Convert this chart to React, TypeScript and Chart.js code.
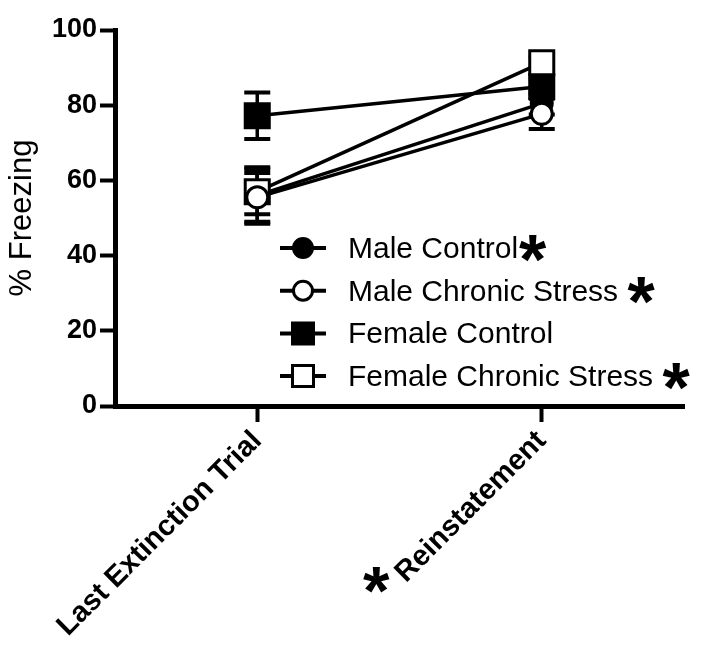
import React, { useEffect, useRef } from "react";
import { Chart, registerables } from "chart.js";
Chart.register(...registerables);

// ---- data ----
const categories = ["Last Extinction Trial", "Reinstatement"];
const categoryStars = [false, true];
const seriesNames = ["Male Control", "Male Chronic Stress ", "Female Control", "Female Chronic Stress "];
const seriesStars = [true, true, false, true];
const maleControl = [56, 80.5];
const maleControlSem = [7.5, 3];
const maleStress = [55.5, 77.7];
const maleStressSem = [6.5, 4];
const femaleControl = [77.2, 85];
const femaleControlSem = [6.2, 2];
const femaleStress = [57, 91.3];
const femaleStressSem = [6, 1.5];
const yMin = 0;
const yMax = 100;
const yStep = 20;
const yTitle = "% Freezing";

const FONT = "'Liberation Sans', Arial, Helvetica, sans-serif";
const semList = [maleControlSem, maleStressSem, femaleControlSem, femaleStressSem];
const shapes = [
  { style: "circle", fill: "#000" },
  { style: "circle", fill: "#fff" },
  { style: "rect", fill: "#000" },
  { style: "rect", fill: "#fff" },
];

function drawAsterisk(ctx: CanvasRenderingContext2D, cx: number, cy: number, size: number) {
  ctx.save();
  ctx.font = `bold ${size}px ${FONT}`;
  ctx.textBaseline = "alphabetic";
  ctx.textAlign = "left";
  const m = ctx.measureText("*");
  const asc = m.actualBoundingBoxAscent;
  const desc = m.actualBoundingBoxDescent;
  const l = m.actualBoundingBoxLeft;
  const r = m.actualBoundingBoxRight;
  const x = cx - (r - l) / 2 + l;
  const y = cy - (desc - asc) / 2;
  ctx.fillStyle = "#000";
  ctx.fillText("*", x, y);
  ctx.restore();
}

const errorBarPlugin = {
  id: "errorBars",
  beforeDatasetsDraw(chart: any) {
    const { ctx, scales } = chart;
    const xs = scales.x;
    const ys = scales.y;
    ctx.save();
    ctx.strokeStyle = "#000";
    chart.data.datasets.forEach((ds: any, di: number) => {
      const sem = semList[di];
      ds.data.forEach((v: number, i: number) => {
        const px = xs.getPixelForValue(i);
        const top = ys.getPixelForValue(v + sem[i]);
        const bot = ys.getPixelForValue(v - sem[i]);
        ctx.lineWidth = 3.5;
        ctx.beginPath();
        ctx.moveTo(px, top);
        ctx.lineTo(px, bot);
        ctx.stroke();
        ctx.lineWidth = 4;
        ctx.beginPath();
        ctx.moveTo(px - 13, top);
        ctx.lineTo(px + 13, top);
        ctx.moveTo(px - 13, bot);
        ctx.lineTo(px + 13, bot);
        ctx.stroke();
      });
    });
    ctx.restore();
  },
};

const legendPlugin = {
  id: "customLegend",
  afterDraw(chart: any) {
    const { ctx } = chart;
    const lineX1 = 280;
    const lineX2 = 326;
    const markX = 303;
    const textX = 348;
    const baseline0 = 258;
    const rowGap = 42.7;
    ctx.save();
    seriesNames.forEach((name, i) => {
      const base = baseline0 + rowGap * i;
      const cy = base - 10;
      ctx.strokeStyle = "#000";
      ctx.lineWidth = 4;
      ctx.beginPath();
      ctx.moveTo(lineX1, cy);
      ctx.lineTo(lineX2, cy);
      ctx.stroke();
      ctx.lineWidth = 3;
      ctx.fillStyle = shapes[i].fill;
      ctx.beginPath();
      if (shapes[i].style === "circle") {
        ctx.arc(markX, cy, 9.5, 0, Math.PI * 2);
      } else {
        ctx.rect(markX - 10.5, cy - 10.5, 21, 21);
      }
      ctx.fill();
      ctx.stroke();
      ctx.fillStyle = "#000";
      ctx.font = `30px ${FONT}`;
      ctx.textBaseline = "alphabetic";
      ctx.textAlign = "left";
      ctx.fillText(name, textX, base);
      if (seriesStars[i]) {
        const w = ctx.measureText(name).width;
        drawAsterisk(ctx, textX + w + 15, cy, 70);
      }
    });
    // asterisk before category label
    const xs = chart.scales.x;
    ctx.font = `bold 29px ${FONT}`;
    categories.forEach((c, i) => {
      if (!categoryStars[i]) return;
      const w = ctx.measureText(c).width;
      const px = xs.getPixelForValue(i);
      const py = xs.top + 18;
      const d = w + 10;
      drawAsterisk(ctx, px - d * Math.SQRT1_2 - 17, py + d * Math.SQRT1_2 + 8, 68);
    });
    ctx.restore();
  },
};

export default function App() {
  const ref = useRef<HTMLCanvasElement | null>(null);
  useEffect(() => {
    if (!ref.current) return;
    const mk = (label: string, data: number[], i: number, order: number) => ({
      label,
      data,
      borderColor: "#000",
      borderWidth: 3.5,
      backgroundColor: shapes[i].fill,
      pointStyle: shapes[i].style,
      pointRadius: shapes[i].style === "circle" ? 10.5 : 17,
      pointBackgroundColor: shapes[i].fill,
      pointBorderColor: "#000",
      pointBorderWidth: 3,
      tension: 0,
      fill: false,
      order,
    });
    const chart = new Chart(ref.current, {
      type: "line",
      data: {
        labels: categories,
        datasets: [
          mk(seriesNames[0], maleControl, 0, 3),
          mk(seriesNames[1], maleStress, 1, 0),
          mk(seriesNames[2], femaleControl, 2, 2),
          mk(seriesNames[3], femaleStress, 3, 1),
        ],
      },
      options: {
        animation: false,
        responsive: false,
        events: [],
        layout: { padding: { top: 30, right: 19, left: 0, bottom: 0 } },
        plugins: { legend: { display: false }, tooltip: { enabled: false } },
        scales: {
          x: {
            type: "category",
            offset: true,
            afterFit: (s: any) => {
              s.height = 242;
            },
            grid: {
              display: true,
              drawOnChartArea: false,
              drawTicks: true,
              tickLength: 16,
              tickWidth: 4,
              tickColor: "#000",
              offset: false,
            },
            border: { display: true, color: "#000", width: 5 },
            ticks: {
              color: "#000",
              font: { family: FONT, size: 29, weight: "bold" },
              minRotation: 45,
              maxRotation: 45,
              autoSkip: false,
              padding: 2,
            },
          },
          y: {
            type: "linear",
            min: yMin,
            max: yMax,
            afterFit: (s: any) => {
              s.width = 115;
            },
            grid: {
              display: true,
              drawOnChartArea: false,
              drawTicks: true,
              tickLength: 15,
              tickWidth: 4,
              tickColor: "#000",
            },
            border: { display: true, color: "#000", width: 5 },
            ticks: {
              stepSize: yStep,
              color: "#000",
              font: { family: FONT, size: 27, weight: "bold" },
              padding: 3,
            },
            title: {
              display: true,
              text: yTitle,
              color: "#000",
              font: { family: FONT, size: 31, weight: "normal" },
              padding: { top: 4, bottom: 0 },
            },
          },
        },
      },
      plugins: [errorBarPlugin, legendPlugin],
    } as any);
    return () => chart.destroy();
  }, []);
  return (
    <div style={{ position: "fixed", left: 0, top: 0, width: 704, height: 648, background: "#fff" }}>
      <canvas ref={ref} width={704} height={648} style={{ display: "block" }} />
    </div>
  );
}
